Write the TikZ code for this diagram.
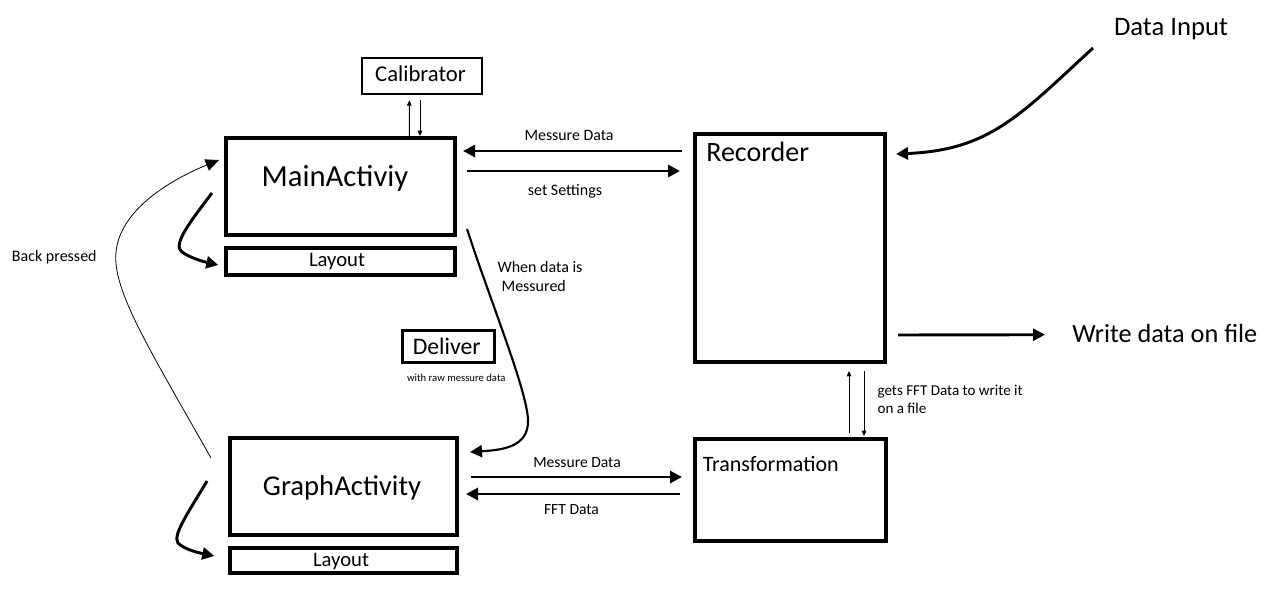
\documentclass[tikz,border=0pt]{standalone}
\usepackage{fontspec}
\setmainfont{Carlito}
\usetikzlibrary{arrows.meta,calc}
\tikzset{
  box/.style={draw, line width=3pt, inner sep=0pt},
  layoutbox/.style={draw, line width=2.6pt, inner sep=0pt},
  smallbox/.style={draw, line width=2pt, inner sep=0pt},
  txt/.style={inner sep=0pt},
  bigarrow/.style={line width=2.2pt, -{Triangle[length=9pt,width=9pt]}},
  thinarrow/.style={line width=0.75pt, -{Triangle[length=4pt,width=3.5pt]}},
  backarrow/.style={line width=0.6pt, -{Triangle[length=10pt,width=9pt]}},
}
\begin{document}
\begin{tikzpicture}[x=0.75pt,y=-0.75pt]
\useasboundingbox (0,0) rectangle (1284,594);
% boxes
\node[smallbox, minimum width=90pt, minimum height=27pt] (cal) at (422,76) {};
\node[box, minimum width=171.75pt, minimum height=72.75pt] (main) at (340.5,186.5) {};
\node[layoutbox, minimum width=171.75pt, minimum height=20.25pt] (lay1) at (340.5,261.5) {};
\node[box, minimum width=142.5pt, minimum height=171pt] (rec) at (790,248) {};
\node[box, minimum width=143.25pt, minimum height=76.5pt] (trans) at (790.5,490) {};
\node[box, minimum width=170.25pt, minimum height=72.75pt] (graph) at (343.5,486.5) {};
\node[layoutbox, minimum width=170.25pt, minimum height=18.75pt] (lay2) at (343.5,560.5) {};
\node[smallbox, minimum width=69pt, minimum height=24pt] (deliv) at (448.5,346.5) {};
% texts in boxes
\node[txt, anchor=base, font=\fontsize{17}{20}\selectfont] (calt) at (420.5,81.7) {Calibrator};
\node[txt, anchor=base, font=\fontsize{23}{27}\selectfont] (maint) at (335,186.7) {MainActiviy};
\node[txt, anchor=base, font=\fontsize{15.5}{18}\selectfont] (lay1t) at (337,266.7) {Layout};
\node[txt, anchor=base west, font=\fontsize{21}{25}\selectfont] (rect) at (706,161.7) {Recorder};
\node[txt, anchor=base west, font=\fontsize{16.5}{20}\selectfont] (transt) at (702.5,471.7) {Transformation};
\node[txt, anchor=base, font=\fontsize{21.5}{25}\selectfont] (grapht) at (342,495) {GraphActivity};
\node[txt, anchor=base, font=\fontsize{15.5}{18}\selectfont] (lay2t) at (341,566.7) {Layout};
\node[txt, anchor=base, font=\fontsize{17.8}{21}\selectfont] (delivt) at (446.7,354.3) {Deliver};
% free texts
\node[txt, anchor=base, font=\fontsize{8}{10}\selectfont] (rawt) at (456.3,381.7) {with raw messure data};
\node[txt, anchor=base, font=\fontsize{20}{24}\selectfont] (dint) at (1171,35) {Data Input};
\node[txt, anchor=base west, font=\fontsize{19.7}{24}\selectfont] (wtext) at (1072,342.7) {Write data on file};
\node[txt, anchor=base, font=\fontsize{11.9}{14}\selectfont] (msg1t) at (569,140.7) {Messure Data};
\node[txt, anchor=base, font=\fontsize{12}{14}\selectfont] (sett) at (565,195.5) {set Settings};
\node[txt, anchor=north west, align=left, font=\fontsize{12}{14}\selectfont] (whent) at (497.3,261) {When data is\\\hspace{3pt}Messured};
\node[txt, anchor=base west, font=\fontsize{12}{14}\selectfont] (backt) at (11.7,261.7) {Back pressed};
\node[txt, anchor=base, font=\fontsize{11.7}{14}\selectfont] (msg2t) at (577,467.7) {Messure Data};
\node[txt, anchor=base, font=\fontsize{11.7}{14}\selectfont] (fftt) at (571.5,514) {FFT Data};
\node[txt, anchor=north west, align=left, font=\fontsize{11.3}{13.7}\selectfont] (getst) at (877.3,385) {gets FFT Data to write it\\on a file};
% connectors
\coordinate (dstart) at (1093,48);
\draw[bigarrow] ($(rec.north west)+(-11,19)$) -- ($(main.north east)+(6,15)$);
\draw[bigarrow] ($(main.north east)+(10,35)$) -- ($(rec.north west)+(-13,39)$);
\draw[thinarrow] ($(main.north)+(68.8,0)$) -- ($(cal.south)+(-12.7,5)$);
\draw[thinarrow] ($(cal.south)+(-2,5)$) -- ($(main.north)+(79.5,0)$);
\draw[backarrow] ($(graph.north west)+(-17,22)$) .. controls (150,350) and (112,290) .. (116,252)
   .. controls (120,210) and (170,180) .. ($(main.north west)+(-5,24)$);
\draw[bigarrow] ($(main.west)+(-12,6.5)$) .. controls (190,222) and (172,245) .. (182,252)
   .. controls (190,258) and (205,262) .. ($(lay1.west)+(-6,3.5)$);
\draw[bigarrow] ($(graph.west)+(-21,-5.5)$) .. controls (190,510) and (172,535) .. (178,543)
   .. controls (185,550) and (200,553) .. ($(lay2.west)+(-14,-4.5)$);
\draw[bigarrow, line width=1.6pt] ($(main.south east)+(10,-8)$) .. controls (490,300) and (527,390) .. (528,420)
   .. controls (529,448) and (500,450) .. ($(graph.north east)+(11,16)$);
\draw[bigarrow] ($(graph.east)+(12,-9.5)$) -- ($(trans.west)+(-11,-13)$);
\draw[bigarrow] ($(trans.west)+(-13,4)$) -- ($(graph.east)+(7,7.5)$);
\draw[thinarrow] ($(trans.north)+(58.5,-4)$) -- ($(rec.south)+(59,7)$);
\draw[thinarrow] ($(rec.south)+(74,7)$) -- ($(trans.north)+(73.5,-1)$);
\draw[bigarrow] (dstart) .. controls (1020,115) and (990,150) .. ($(rec.north east)+(9,22)$);
\draw[bigarrow] ($(rec.east)+(11,87)$) -- ($(wtext.base west)+(-27,-8)$);
\end{tikzpicture}
\end{document}
